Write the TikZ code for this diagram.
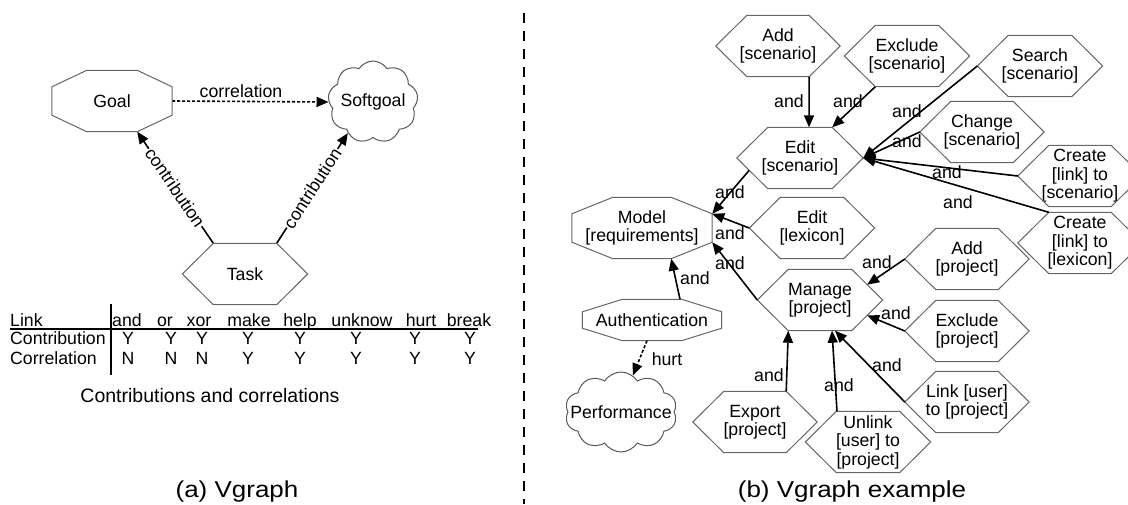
\documentclass[tikz,border=0pt]{standalone}
\usepackage{fontspec}
\setmainfont{Liberation Sans}
\usetikzlibrary{calc,arrows.meta,shapes.symbols}

\tikzset{
  txt/.style={font=\fontsize{17.7}{18.5}\selectfont, align=center, inner sep=0pt},
  box/.style={txt, rectangle, minimum height=61},
  outline/.style={draw=black!60, line width=1pt, line join=miter},
  cloudy/.style={cloud, cloud puffs=10, cloud puff arc=115, cloud ignores aspect, inner sep=0pt,
    draw=black!65, line width=1pt},
  link/.style={line width=1.6pt, -{Triangle[length=12pt,width=10pt]}},
  rule/.style={line width=1.3pt},
  captext/.style={font=\fontsize{23}{26}\selectfont, inner sep=0pt, xscale=1.13},
}

\begin{document}
\begin{tikzpicture}[x=1pt, y=-1pt]
\useasboundingbox (0,0) rectangle (1128,504);

% (a) goal, softgoal and task
\node[box, minimum width=120] (goal) at (112,101) {Goal};
\node[cloudy, cloud puffs=9, minimum width=90, minimum height=82, label={[txt]center:Softgoal}] (soft) at (373,102) {};
\node[box, minimum width=125] (task) at (245,274) {Task};

\draw[link, dash pattern=on 3pt off 2pt] (goal.east) -- (soft.west);
\node[txt] (corr) at (241,91) {correlation};
\draw[link] ($(task.north west)+(31,0)$) -- ($(goal.south east)+(-35,0)$)
  node[txt, midway, sloped, fill=white, inner sep=1pt] (contrib1) {contribution};
\draw[link] ($(task.north east)+(-31,0)$) -- (soft.231)
  node[txt, midway, sloped, fill=white, inner sep=1pt] (contrib2) {contribution};

% table of link types
\draw[rule] (10,329) -- (478,329);
\draw[rule] (111,304) -- (111,375);
\node[txt, anchor=base west] (rowlink) at (10,326) {Link};
\node[txt, anchor=base west] (rowcon) at (10,344) {Contribution};
\node[txt, anchor=base west] (rowcor) at (10,364) {Correlation};
\foreach \hx/\vx/\h/\c/\r [count=\i] in {127/128/and/Y/N, 165/171/or/Y/N, 199/202/xor/Y/N,
    249/248/make/Y/Y, 300/300/help/Y/Y, 362/356/unknow/Y/Y, 421/415/hurt/Y/Y, 469/470/break/Y/Y} {
  \node[txt, anchor=base] (head\i) at (\hx,326) {\h};
  \node[txt, anchor=base] (con\i) at (\vx,344) {\c};
  \node[txt, anchor=base] (cor\i) at (\vx,364) {\r};
}
\node[txt, font=\fontsize{19.5}{22}\selectfont, anchor=base] (tabcap) at (210,402) {Contributions and correlations};

% divider
\draw[line width=1.2pt, dash pattern=on 10pt off 8pt] (524,13) -- (524,504);

% (b) example
\node[box, minimum width=124] (addsc) at (778,46) {Add\\{}[scenario]};
\node[box, minimum width=125] (exsc) at (907,56) {Exclude\\{}[scenario]};
\node[box, minimum width=125] (srsc) at (1040,66) {Search\\{}[scenario]};
\node[box, minimum width=124] (chsc) at (982,132) {Change\\{}[scenario]};
\node[box, minimum width=126] (edsc) at (800,158) {Edit\\{}[scenario]};
\node[box, minimum width=124] (crsc) at (1080,176) {Create\\{}[link] to\\{}[scenario]};
\node[box, minimum width=124] (crlx) at (1080,243) {Create\\{}[link] to\\{}[lexicon]};
\node[box, minimum width=140] (model) at (642,228) {Model\\{}[requirements]};
\node[box, minimum width=125] (edlx) at (812,228) {Edit\\{}[lexicon]};
\node[box, minimum width=125] (mgpr) at (820,300) {Manage\\{}[project]};
\node[box, minimum width=124] (adpr) at (967,259) {Add\\{}[project]};
\node[box, minimum width=124] (expr) at (967,331) {Exclude\\{}[project]};
\node[box, minimum width=124] (lkpr) at (967,402) {Link [user]\\to [project]};
\node[box, minimum width=125] (ulpr) at (868,442) {Unlink\\{}[user] to\\{}[project]};
\node[box, minimum width=124] (xppr) at (755,422) {Export\\{}[project]};
\node[box, minimum width=139, minimum height=41] (auth) at (652,320) {Authentication};
\node[cloudy, minimum width=112, minimum height=80, label={[txt]center:Performance}] (perf) at (621,412) {};

% hexagon outlines
\foreach \n in {task,addsc,exsc,srsc,chsc,edsc,crsc,crlx,edlx,mgpr,adpr,expr,lkpr,ulpr,xppr}
  \draw[outline] ($(\n.north west)+(31,0)$) -- ($(\n.north east)+(-31,0)$) -- (\n.east)
    -- ($(\n.south east)+(-31,0)$) -- ($(\n.south west)+(31,0)$) -- (\n.west) -- cycle;

% octagon outlines
\foreach \n/\cx/\cy in {goal/35/16.5, model/41/16.5, auth/40/12.5}
  \draw[outline] ($(\n.north west)+(\cx,0)$) -- ($(\n.north east)+(-\cx,0)$)
    -- ($(\n.north east)+(0,\cy)$) -- ($(\n.south east)+(0,-\cy)$)
    -- ($(\n.south east)+(-\cx,0)$) -- ($(\n.south west)+(\cx,0)$)
    -- ($(\n.south west)+(0,-\cy)$) -- ($(\n.north west)+(0,\cy)$) -- cycle;

% and-links
\draw[link] ($(addsc.south east)+(-31,0)$) -- ($(edsc.north)+(9,0)$);
\draw[link] ($(exsc.south west)+(31,0)$) -- ($(edsc.north east)+(-31,0)$);
\draw[link] (srsc.west) -- (edsc.east);
\draw[link] (chsc.west) -- (edsc.east);
\draw[link] (crsc.west) -- (edsc.east);
\draw[link] ($(crlx.north west)+(31,0)$) -- (edsc.east);
\draw[link] ($(edsc.west)!0.4!($(edsc.south west)+(31,0)$)$) -- ($(model.north east)+(0,16.5)$);
\draw[link] (edlx.west) -- ($(model.north east)+(0,16.5)$);
\draw[link] (mgpr.west) -- ($(model.south east)+(0,-16.5)$);
\draw[link] ($(auth.north)+(28,0)$) -- ($(model.south east)+(-41,0)$);
\draw[link, dash pattern=on 3pt off 2pt] ($(auth.south)+(-5,0)$) -- (perf.72);
\draw[link] (adpr.west) -- ($(mgpr.east)!0.5!($(mgpr.north east)+(-31,0)$)$);
\draw[link] (expr.west) -- ($(mgpr.east)!0.5!($(mgpr.south east)+(-31,0)$)$);
\draw[link] (lkpr.west) -- ($(mgpr.south)+(15,0)$);
\draw[link] ($(ulpr.north)+(-31,0)$) -- ($(mgpr.south)+(12,0)$);
\draw[link] ($(xppr.north east)+(-31,0)$) -- ($(mgpr.south west)+(31,0)$);

\foreach \x/\y [count=\i] in {789/101, 848/101, 907/111, 907/141, 947/172, 958/202, 730/192,
    730/233, 730/263, 695/278, 877/262, 896/313, 887/365, 839/385, 769/375}
  \node[txt] (and\i) at (\x,\y) {and};
\node[txt] (hurt) at (667,359) {hurt};

% captions
\node[captext, anchor=base] (capa) at (237,497) {(a) Vgraph};
\node[captext, anchor=base] (capb) at (852,497) {(b) Vgraph example};
\end{tikzpicture}
\end{document}
